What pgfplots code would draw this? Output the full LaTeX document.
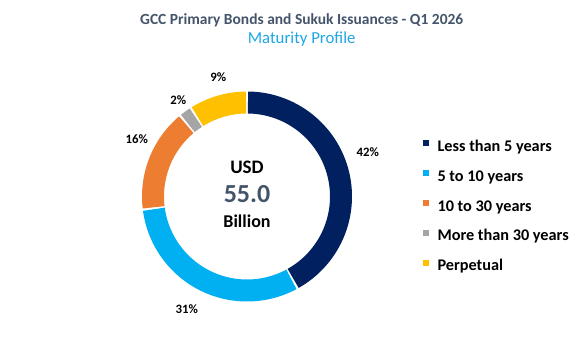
\documentclass[border=0pt]{standalone}
\usepackage{pgfplots}
\pgfplotsset{compat=1.18}
\usepackage{pgfplotstable}
\usepackage{fontspec}
\setmainfont{Carlito}
\definecolor{cNavy}{HTML}{002060}
\definecolor{cLight}{HTML}{00B0F0}
\definecolor{cOrange}{HTML}{ED7D31}
\definecolor{cGray}{HTML}{A5A5A5}
\definecolor{cGold}{HTML}{FFC000}
\definecolor{cTitle}{HTML}{44546A}
\definecolor{cSub}{HTML}{1EA6E6}
\pgfplotstableread[col sep=comma]{
label,value
Less than 5 years,42
5 to 10 years,31
10 to 30 years,16
More than 30 years,2
Perpetual,9
}\maturity
\pgfplotsset{mysq/.style={legend image code/.code={\path[draw=none, fill=#1, line width=0pt] (0pt,0.9pt) rectangle (4.5pt,5.4pt);}}}
\begin{document}
\begin{tikzpicture}
\pgfplotstablegetelem{0}{value}\of\maturity\let\vA\pgfplotsretval
\pgfplotstablegetelem{1}{value}\of\maturity\let\vB\pgfplotsretval
\pgfplotstablegetelem{2}{value}\of\maturity\let\vC\pgfplotsretval
\pgfplotstablegetelem{3}{value}\of\maturity\let\vD\pgfplotsretval
\pgfplotstablegetelem{4}{value}\of\maturity\let\vE\pgfplotsretval
\pgfmathsetmacro\bO{90}
\pgfmathsetmacro\bA{\bO-3.6*\vA}
\pgfmathsetmacro\bB{\bA-3.6*\vB}
\pgfmathsetmacro\bC{\bB-3.6*\vC}
\pgfmathsetmacro\bD{\bC-3.6*\vD}
\pgfmathsetmacro\bE{\bD-3.6*\vE}
\def\g{0.6}
\pgfmathsetmacro\sA{\bA+\g}\pgfmathsetmacro\eA{\bO-\g}
\pgfmathsetmacro\sB{\bB+\g}\pgfmathsetmacro\eB{\bA-\g}
\pgfmathsetmacro\sC{\bC+\g}\pgfmathsetmacro\eC{\bB-\g}
\pgfmathsetmacro\sD{\bD+\g}\pgfmathsetmacro\eD{\bC-\g}
\pgfmathsetmacro\sE{\bE+\g}\pgfmathsetmacro\eE{\bD-\g}
\begin{axis}[
  width=440.25pt, height=266.25pt, scale only axis,
  xmin=-247, xmax=340, ymin=-158.5, ymax=196.5,
  hide axis, clip=false,
  legend cell align=left,
  legend style={at={(axis cs:172,59.5)}, anchor=north west, draw=none, fill=none,
    font=\bfseries\fontsize{12.2}{14}\selectfont, row sep=11.4pt,
    nodes={inner sep=0pt, text height=8.5pt, text depth=2.5pt},
    /tikz/every odd column/.append style={column sep=6.2pt}},
]
\path (rel axis cs:0,0) rectangle (rel axis cs:1,1);
\addplot[draw=cNavy, line width=16.5pt, domain=\sA:\eA, samples=120, data cs=polar, mysq=cNavy] ({x},{94});
\addlegendentry{Less than 5 years}
\addplot[draw=cLight, line width=16.5pt, domain=\sB:\eB, samples=100, data cs=polar, mysq=cLight] ({x},{94});
\addlegendentry{5 to 10 years}
\addplot[draw=cOrange, line width=16.5pt, domain=\sC:\eC, samples=60, data cs=polar, mysq=cOrange] ({x},{94});
\addlegendentry{10 to 30 years}
\addplot[draw=cGray, line width=16.5pt, domain=\sD:\eD, samples=10, data cs=polar, mysq=cGray] ({x},{94});
\addlegendentry{More than 30 years}
\addplot[draw=cGold, line width=16.5pt, domain=\sE:\eE, samples=40, data cs=polar, mysq=cGold] ({x},{94});
\addlegendentry{Perpetual}
% percentage labels
\node[font=\bfseries\fontsize{9.6}{11}\selectfont] at (axis cs:120.7,44.2) {42\%};
\node[font=\bfseries\fontsize{9.6}{11}\selectfont] at (axis cs:-60.3,-112.5) {31\%};
\node[font=\bfseries\fontsize{9.6}{11}\selectfont] at (axis cs:-110.3,57.2) {16\%};
\node[font=\bfseries\fontsize{9.6}{11}\selectfont] at (axis cs:-68.7,96.5) {2\%};
\node[font=\bfseries\fontsize{9.6}{11}\selectfont] at (axis cs:-28.7,119.2) {9\%};
% centre text
\node[anchor=base, font=\bfseries\fontsize{14.3}{16}\selectfont] at (axis cs:0,23.2) {USD};
\node[anchor=base, font=\bfseries\fontsize{19.5}{22}\selectfont, text=cTitle] at (axis cs:0,-6.2) {55.0};
\node[anchor=base, font=\bfseries\fontsize{13.5}{16}\selectfont] at (axis cs:0,-30.8) {Billion};
% titles
\node[anchor=base, font=\bfseries\fontsize{11.6}{14}\selectfont, text=cTitle] at (axis cs:54.7,172.5) {GCC Primary Bonds and Sukuk Issuances - Q1 2026};
\node[anchor=base, font=\fontsize{12.6}{15}\selectfont, text=cSub] at (axis cs:54.7,153.2) {Maturity Profile};
\end{axis}
\end{tikzpicture}
\end{document}
